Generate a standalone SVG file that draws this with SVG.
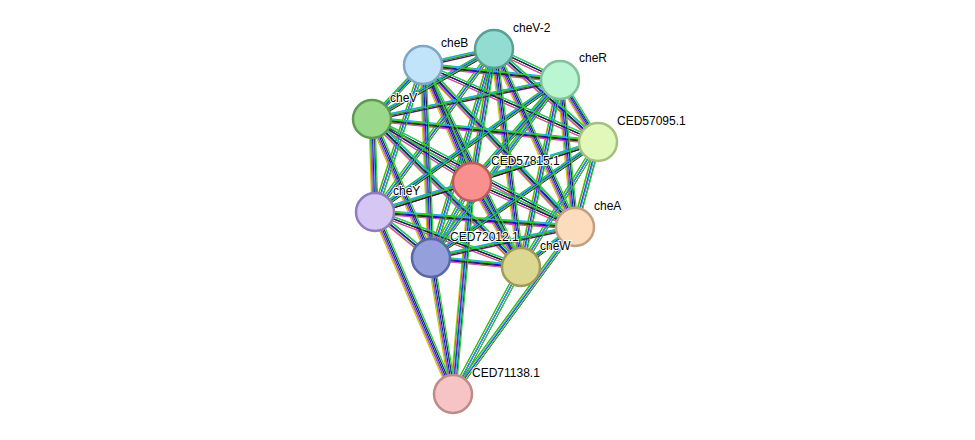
<svg xmlns="http://www.w3.org/2000/svg" xmlns:xlink="http://www.w3.org/1999/xlink" width="975" height="440" viewBox="0 0 975 440">
<style>
text{font-family:"Liberation Sans",Arial,sans-serif;font-size:12px;fill:#000;paint-order:stroke;stroke:#fff;stroke-width:2px}
.n{stroke-width:2.5}
#E path{fill:none;stroke-width:1.2}
</style>
<defs>
<path id="ed" d="M423,65L494,49M423,65L560,80M423,65L598,142M423,65L372,119M423,65L472,182M423,65L375,212M423,65L575,227M423,65L431,258M423,65L521,267
M494,49L560,80M494,49L598,142M494,49L372,119M494,49L472,182M494,49L375,212M494,49L575,227M494,49L431,258M494,49L521,267
M560,80L598,142M560,80L372,119M560,80L472,182M560,80L375,212M560,80L575,227M560,80L431,258M560,80L521,267
M598,142L372,119M598,142L472,182M598,142L375,212M598,142L575,227M598,142L431,258M598,142L521,267
M372,119L472,182M372,119L375,212M372,119L575,227M372,119L431,258M372,119L521,267
M472,182L375,212M472,182L575,227M472,182L431,258M472,182L521,267
M375,212L575,227M375,212L431,258M375,212L521,267
M575,227L431,258M575,227L521,267M431,258L521,267
M453,394L375,212M453,394L431,258M453,394L472,182M453,394L521,267M453,394L575,227"/>
</defs>
<g id="E">
<use href="#ed" stroke="#c8c800" transform="translate(-3,1)" fill="none" stroke-width="1.2"/>
<use href="#ed" stroke="#22bb22" transform="translate(-2,-1)" fill="none" stroke-width="1.2"/>
<use href="#ed" stroke="#d040d0" transform="translate(-1,2)" fill="none" stroke-width="1.2"/>
<use href="#ed" stroke="#1111dd" transform="translate(0,0)" fill="none" stroke-width="1.2"/>
<use href="#ed" stroke="#22aaee" transform="translate(1,-2)" fill="none" stroke-width="1.2"/>
<use href="#ed" stroke="#222222" transform="translate(2,1)" fill="none" stroke-width="1"/>
<use href="#ed" stroke="#33cc33" transform="translate(3,-1)" fill="none" stroke-width="1.2"/>
</g>
<g id="cheB"><circle class="n" cx="423" cy="65" r="19" fill="#c2e4fa" stroke="#7fa6c4"/><text x="441" y="47">cheB</text></g>
<g id="cheV-2"><circle class="n" cx="494" cy="49" r="19" fill="#92dcd2" stroke="#5a9e94"/><text x="513" y="32">cheV-2</text></g>
<g id="cheR"><circle class="n" cx="560" cy="80" r="19" fill="#baf6d2" stroke="#82c09c"/><text x="579" y="62">cheR</text></g>
<g id="CED57095.1"><circle class="n" cx="598" cy="142" r="19" fill="#e2f8ba" stroke="#a4c07e"/><text x="617" y="125">CED57095.1</text></g>
<g id="cheV"><circle class="n" cx="372" cy="119" r="19" fill="#9ad98c" stroke="#5e9a52"/><text x="390" y="102">cheV</text></g>
<g id="CED57815.1"><circle class="n" cx="472" cy="182" r="19" fill="#f89090" stroke="#c05a5a"/><text x="491" y="165">CED57815.1</text></g>
<g id="cheY"><circle class="n" cx="375" cy="212" r="19" fill="#d6c6f4" stroke="#8f7cc0"/><text x="393" y="195">cheY</text></g>
<g id="cheA"><circle class="n" cx="575" cy="227" r="19" fill="#fcdcbc" stroke="#c0a080"/><text x="594" y="210">cheA</text></g>
<g id="CED72012.1"><circle class="n" cx="431" cy="258" r="19" fill="#94a0dc" stroke="#5a66a6"/><text x="450" y="241">CED72012.1</text></g>
<g id="cheW"><circle class="n" cx="521" cy="267" r="19" fill="#dcd892" stroke="#9e9a58"/><text x="540" y="250">cheW</text></g>
<g id="CED71138.1"><circle class="n" cx="453" cy="394" r="19" fill="#f6c4c4" stroke="#be8a8a"/><text x="472" y="377">CED71138.1</text></g>
</svg>
